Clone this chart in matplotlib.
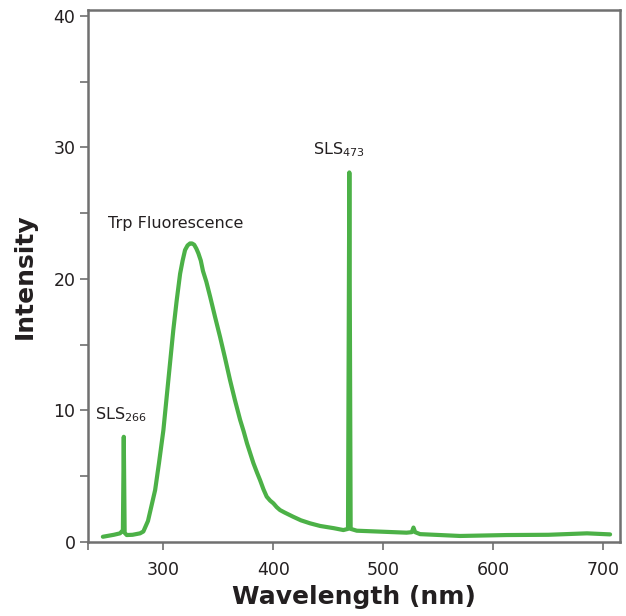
import matplotlib
matplotlib.use('Agg')

import matplotlib.pyplot as plt

plt.rcParams['font.family'] = ['DejaVu Sans']
plt.rcParams['mathtext.default'] = 'regular'

# Spectrum (wavelength in nm, intensity)
wavelength = [245, 255, 260.6, 263.2, 264.0, 264.8, 266.7, 272, 278.8, 281.8,
              286, 292.5, 296, 300, 304.5, 309, 312, 315.2, 317.5, 319.7,
              322, 324.2, 326, 328, 330, 331.8, 334, 336, 339, 342.5,
              347, 351.5, 356, 360.6, 365, 369.7, 373, 376, 381.8, 385,
              387.9, 391, 393.9, 397, 400, 403, 406, 410, 418, 425,
              433.4, 442.5, 455, 463.6, 467.8, 469.0, 470.2, 475.8,
              500, 521, 525.8, 527.3, 528.8, 533.3, 569.7, 612, 650, 685, 706]
intensity = [0.4, 0.55, 0.66, 0.9, 8.0, 0.7, 0.53, 0.55, 0.66, 0.8,
             1.6, 3.95, 6.0, 8.5, 12.3, 16.1, 18.3, 20.4, 21.4, 22.2,
             22.55, 22.7, 22.7, 22.6, 22.3, 21.95, 21.4, 20.6, 19.8, 18.65,
             17.1, 15.6, 14.0, 12.3, 10.8, 9.3, 8.4, 7.5, 6.0, 5.3,
             4.7, 4.0, 3.45, 3.15, 2.94, 2.65, 2.43, 2.25, 1.92, 1.65,
             1.42, 1.22, 1.05, 0.91, 1.0, 28.1, 1.0, 0.86,
             0.78, 0.71, 0.75, 1.1, 0.75, 0.6, 0.46, 0.53, 0.55, 0.66, 0.58]

x_ticks = [300, 400, 500, 600, 700]
y_ticks = [0, 10, 20, 30, 40]
y_minor = [5, 15, 25, 35]

# Peak labels
labels = ['SLS$_{266}$', 'Trp Fluorescence', 'SLS$_{473}$']
label_x = [237.9, 249.7, 436]
label_y = [9.66, 24.2, 29.8]

green = '#4cb147'
grey = '#707070'
text_col = '#231f20'

fig = plt.figure(figsize=(6.26, 6.16), dpi=100)
ax = fig.add_axes([0.1406, 0.1201, 0.8498, 0.8637])

ax.plot(wavelength, intensity, color=green, lw=3.0,
        solid_joinstyle='round', solid_capstyle='round')

for t, x, y in zip(labels, label_x, label_y):
    ax.text(x, y, t, fontsize=11.5, color=text_col, ha='left', va='center')

ax.set_xlim(231.5, 715)
ax.set_ylim(0, 40.45)

ax.set_xticks([231.5] + x_ticks)
ax.set_xticklabels([''] + [str(v) for v in x_ticks])
ax.set_yticks(y_ticks)
ax.set_yticks(y_minor, minor=True)

for s in ax.spines.values():
    s.set_color(grey)
    s.set_linewidth(1.8)

ax.tick_params(axis='both', which='both', direction='out', color=grey,
               width=1.2, labelsize=12.5, labelcolor=text_col, length=6)
ax.tick_params(axis='x', pad=8)
ax.tick_params(axis='y', pad=3)

ax.set_xlabel('Wavelength (nm)', fontsize=18, fontweight='bold',
              color=text_col, labelpad=4)
ax.set_ylabel('Intensity', fontsize=18, fontweight='bold',
              color=text_col, labelpad=12)

fig.savefig('out.png', dpi=100)
